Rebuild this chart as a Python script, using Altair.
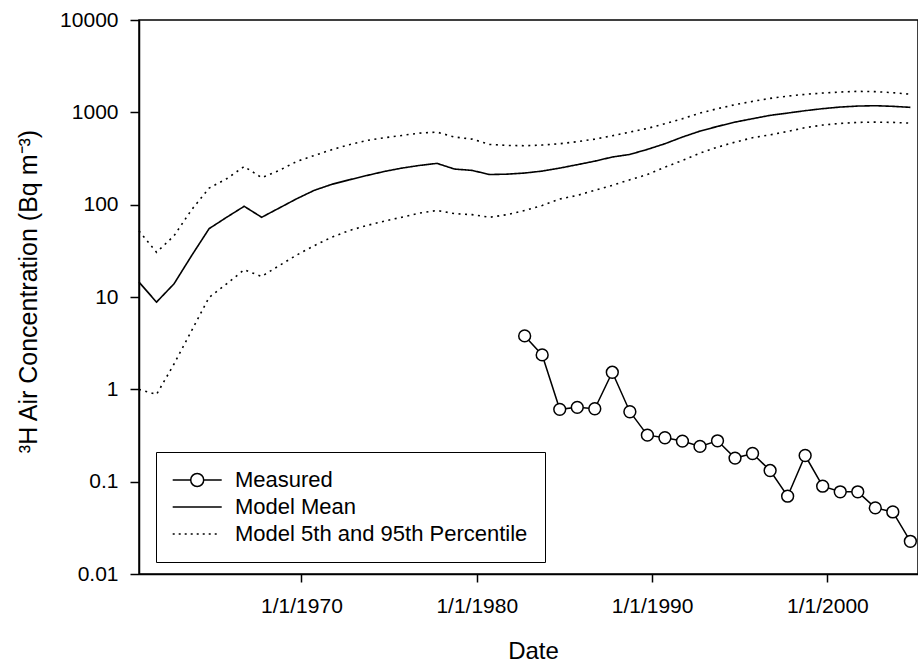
import altair as alt
import pandas as pd

# ---------------- data ----------------
model_years = list(range(1960, 2005))
model_mean = [14.5, 8.8, 13.9, 28, 55, 73, 96, 73, 92, 116,
              143, 166, 186, 207, 229, 249, 266, 280, 243, 235,
              212, 214, 220, 231, 249, 271, 296, 328, 350, 397,
              457, 540, 626, 704, 784, 853, 927, 982, 1042, 1096,
              1141, 1169, 1180, 1161, 1132]
model_p95 = [52, 30.5, 46, 88, 151, 191, 259, 196, 235, 294,
             341, 394, 446, 496, 531, 562, 596, 611, 540, 513,
             450, 438, 435, 442, 457, 481, 513, 558, 611, 670,
             753, 853, 982, 1096, 1211, 1315, 1415, 1500, 1566, 1618,
             1660, 1688, 1675, 1633, 1570]
model_p5 = [1.0, 0.88, 1.88, 4.3, 9.9, 13.9, 19.7, 16.7, 21.9, 28.5,
            36, 44.5, 52.5, 59.5, 66.3, 73.2, 81, 86.5, 80, 78,
            73, 78, 86.5, 98, 115, 126, 143, 162, 186, 212,
            255, 301, 362, 420, 475, 531, 570, 621, 682, 728,
            759, 778, 784, 778, 764]

measured_years = list(range(1982, 2005))
measured_values = [3.79, 2.36, 0.607, 0.638, 0.616, 1.53, 0.572, 0.319, 0.299,
                   0.275, 0.241, 0.277, 0.180, 0.202, 0.132, 0.0696, 0.192,
                   0.0893, 0.0776, 0.0776, 0.052, 0.047, 0.0226]

series_names = ["Measured", "Model Mean", "Model 5th and 95th Percentile"]
y_ticks = [0.01, 0.1, 1, 10, 100, 1000, 10000]
x_tick_years = [1970, 1980, 1990, 2000]

# ---------------- tables ----------------
def date_of(y):
    return f"{y}-09-25"

model_long = pd.DataFrame(
    [{"date": date_of(y), "band": "mean", "style": "Model Mean", "value": v}
     for y, v in zip(model_years, model_mean)]
    + [{"date": date_of(y), "band": "p95", "style": "Model 5th and 95th Percentile", "value": v}
       for y, v in zip(model_years, model_p95)]
    + [{"date": date_of(y), "band": "p5", "style": "Model 5th and 95th Percentile", "value": v}
       for y, v in zip(model_years, model_p5)]
)
measured = pd.DataFrame({"date": [date_of(y) for y in measured_years],
                         "value": measured_values})
legend_df = pd.DataFrame({"series": series_names})

FONT = "Liberation Sans"

x_enc = alt.X(
    "date:T",
    scale=alt.Scale(type="utc",
                    domain=[alt.DateTime(year=1960, month=9, date=25, utc=True),
                            alt.DateTime(year=2005, month=3, date=3, utc=True)]),
    axis=alt.Axis(
        title="Date",
        values=[alt.DateTime(year=y, month=1, date=1, utc=True) for y in x_tick_years],
        labelExpr="utcFormat(datum.value, '%-m/%-d/%Y')",
        tickSize=8, labelPadding=13, labelFontSize=21,
        titleFontSize=24, titleX=394, titleY=84,
        titleBaseline="alphabetic", titleAlign="center",
    ),
)
y_enc = alt.Y(
    "value:Q",
    scale=alt.Scale(type="log", domain=[0.01, 10000], nice=False),
    axis=alt.Axis(
        title="³H Air Concentration (Bq m⁻³)",
        values=y_ticks,
        labelExpr="datum.value >= 1 ? format(datum.value, 'd') : format(datum.value, '.2~f')",
        tickSize=9, labelPadding=12, labelFontSize=21,
        titleFontSize=25, titleAngle=-90, titleX=-103, titleY=271,
        titleBaseline="alphabetic", titleAlign="center",
    ),
)

model_lines = alt.Chart(model_long).mark_line(color="black", strokeWidth=1.6).encode(
    x=x_enc, y=y_enc,
    detail="band:N",
    strokeDash=alt.StrokeDash(
        "style:N",
        scale=alt.Scale(domain=["Model Mean", "Model 5th and 95th Percentile"],
                        range=[[1, 0], [2, 4.5]]),
        legend=None,
    ),
)

meas_line = alt.Chart(measured).mark_line(color="black", strokeWidth=1.5).encode(
    x="date:T", y="value:Q"
)
meas_pts = alt.Chart(measured).mark_point(
    shape="circle", size=140, filled=True, fill="white", stroke="black",
    strokeWidth=1.5, opacity=1
).encode(x="date:T", y="value:Q")

# legend symbols (paths in symbol units; unit = 9.5 px)
c, r = 1.39, 0.684
left, right = -1.19, 3.97
path_measured = (f"M{left},0L{c - r:.3f},0M{c + r:.3f},0L{right},0"
                 f"M{c - r:.3f},0A{r},{r},0,1,1,{c + r:.3f},0A{r},{r},0,1,1,{c - r:.3f},0Z")
path_mean = f"M{left},0L{right},0"
dots = []
for k in range(8):
    s = left + 0.632 * k
    dots.append(f"M{s:.3f},0L{s + 0.21:.3f},0")
path_dotted = "".join(dots)

# carrier layer for the legend only: its marks sit outside the visible page
legend_layer = alt.Chart(legend_df).mark_point(
    filled=False, color="black", strokeWidth=1.5
).encode(
    x=alt.value(0),
    y=alt.value(-400),
    shape=alt.Shape(
        "series:N",
        scale=alt.Scale(domain=series_names,
                        range=[path_measured, path_mean, path_dotted]),
        legend=alt.Legend(
            title=None, orient="none", legendX=17, legendY=432,
            symbolSize=361, symbolStrokeWidth=1.5, symbolStrokeColor="black",
            symbolFillColor="white", symbolOpacity=1,
            labelFont=FONT, labelFontSize=22, labelColor="black",
            labelLimit=500,
            labelOffset=40, rowPadding=5, padding=17,
            strokeColor="black", fillColor="white",
        ),
    ),
)

chart = alt.layer(model_lines, meas_line, meas_pts, legend_layer).properties(
    width=779, height=554,
    padding={"left": 139, "top": 20, "right": 0, "bottom": 88},
    autosize=alt.AutoSizeParams(type="none"),
    background="white",
).configure_view(
    stroke="black", strokeWidth=1.5
).configure_axis(
    grid=False, domainColor="black", domainWidth=1.5,
    tickColor="black", tickWidth=1.5,
    labelColor="black", titleColor="black",
    labelFont=FONT, titleFont=FONT,
    titleFontWeight="normal",
)

chart.save("out.html", embed_options={"renderer": "svg", "actions": False})
